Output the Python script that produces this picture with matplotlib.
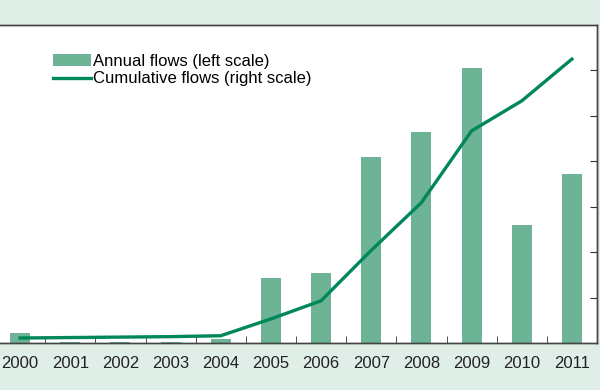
import matplotlib as mpl
import numpy as np
mpl.use('Agg')
import matplotlib.pyplot as plt

years = ['2000', '2001', '2002', '2003', '2004', '2005',
         '2006', '2007', '2008', '2009', '2010', '2011']
annual_flows = [0.22, 0.02, 0.02, 0.02, 0.09, 1.43, 1.54, 4.10, 4.65, 6.05, 2.59, 3.71]
cumulative_flows = [0.11, 0.12, 0.13, 0.14, 0.16, 0.53, 0.93, 2.04, 3.09, 4.67, 5.33, 6.25]

bg = '#dfefe8'
bar_color = '#6db396'
line_color = '#00875a'

plt.rcParams['font.family'] = ['Liberation Sans', 'DejaVu Sans']

fig = plt.figure(figsize=(6, 3.9), dpi=100, facecolor=bg)
ax = fig.add_axes([-5 / 600, 47 / 390, 602 / 600, 318 / 390])
ax.set_facecolor('white')

x = np.arange(len(years))
bars = ax.bar(x, annual_flows, width=0.4, color=bar_color, label='Annual flows (left scale)')
ax.set_ylim(0, 7)
ax.set_xlim(-0.5, len(years) - 0.5)
ax.set_yticks([])

ax2 = ax.twinx()
line, = ax2.plot(x, cumulative_flows, color=line_color, lw=2.4,
                 label='Cumulative flows (right scale)')
ax2.set_ylim(0, 7)
ax2.set_yticks(np.arange(1, 7))
ax2.tick_params(axis='y', direction='in', length=5, color='#333333', labelright=False)

ax.set_xticks(x)
ax.set_xticklabels(years, fontsize=12, color='#222222')
ax.tick_params(axis='x', which='major', length=0, pad=9)
ax.set_xticks(np.arange(0.5, len(years)), minor=True)
ax.tick_params(axis='x', which='minor', direction='in', length=5, color='#333333')

for a in (ax, ax2):
    for s in a.spines.values():
        s.set_color('#444444')
        s.set_linewidth(1.0)

ax.legend([bars, line], [bars.get_label(), line.get_label()],
          loc='upper left', bbox_to_anchor=(0.085, 0.93), frameon=False,
          fontsize=12, handlelength=2.3, handletextpad=0.1,
          labelspacing=0.15, borderaxespad=0)

fig.savefig('out.png', dpi=100, facecolor=bg)
